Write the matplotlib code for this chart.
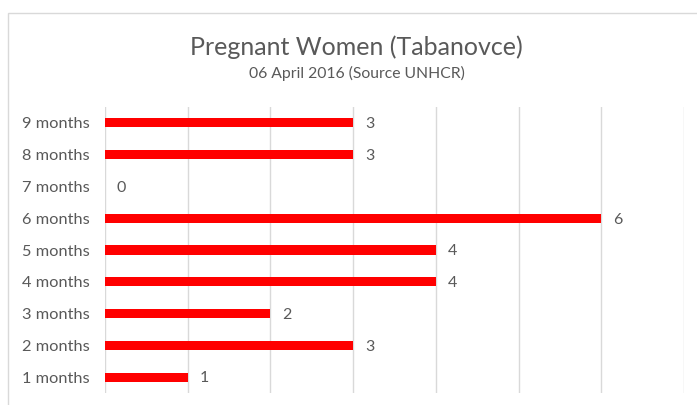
import matplotlib
matplotlib.use("Agg")
import matplotlib.pyplot as plt
from matplotlib.patches import Rectangle

categories = ["1 months", "2 months", "3 months", "4 months", "5 months",
              "6 months", "7 months", "8 months", "9 months"]
values = [1, 3, 2, 4, 4, 6, 0, 3, 3]
title = "Pregnant Women (Tabanovce)"
subtitle = "06 April 2016 (Source UNHCR)"

plt.rcParams['font.family'] = ['Lato', 'DejaVu Sans']
txt = "#595959"

fig = plt.figure(figsize=(6.97, 4.05), dpi=100)
fig.patches.append(Rectangle((8/697, -0.02), 1.0, 1 - 12.5/405 + 0.02,
                             transform=fig.transFigure, fill=False,
                             edgecolor="#d9d9d9", linewidth=1.0))
ax = fig.add_axes([105/697, 1 - 393/405, (684 - 105)/697, (393 - 107)/405])
y = list(range(len(categories)))
ax.barh(y, values, height=0.29, color="#ff0000", zorder=3)
for yi, v in zip(y, values):
    ax.annotate(str(v), (v, yi), xytext=(8.5, -1), textcoords="offset points",
                va="center", ha="left", fontsize=11.5, color=txt)
ax.set_xlim(0, 7)
ax.set_ylim(-0.5, len(categories) - 0.5)
ax.set_xticks(range(0, 8))
ax.set_xticklabels([])
ax.set_yticks(y)
ax.set_yticklabels(categories, fontsize=11.8, color=txt)
ax.tick_params(axis="both", length=0)
ax.tick_params(axis="y", pad=11)
ax.grid(axis="x", color="#d9d9d9", linewidth=1.0, zorder=0)
for s in ax.spines.values():
    s.set_visible(False)

fig.text(356/697, 1 - 47/405, title, ha="center", va="center", fontsize=18, color=txt)
fig.text(357/697, 1 - 73/405, subtitle, ha="center", va="center", fontsize=11.3, color=txt)

fig.savefig("out.png", dpi=100)
